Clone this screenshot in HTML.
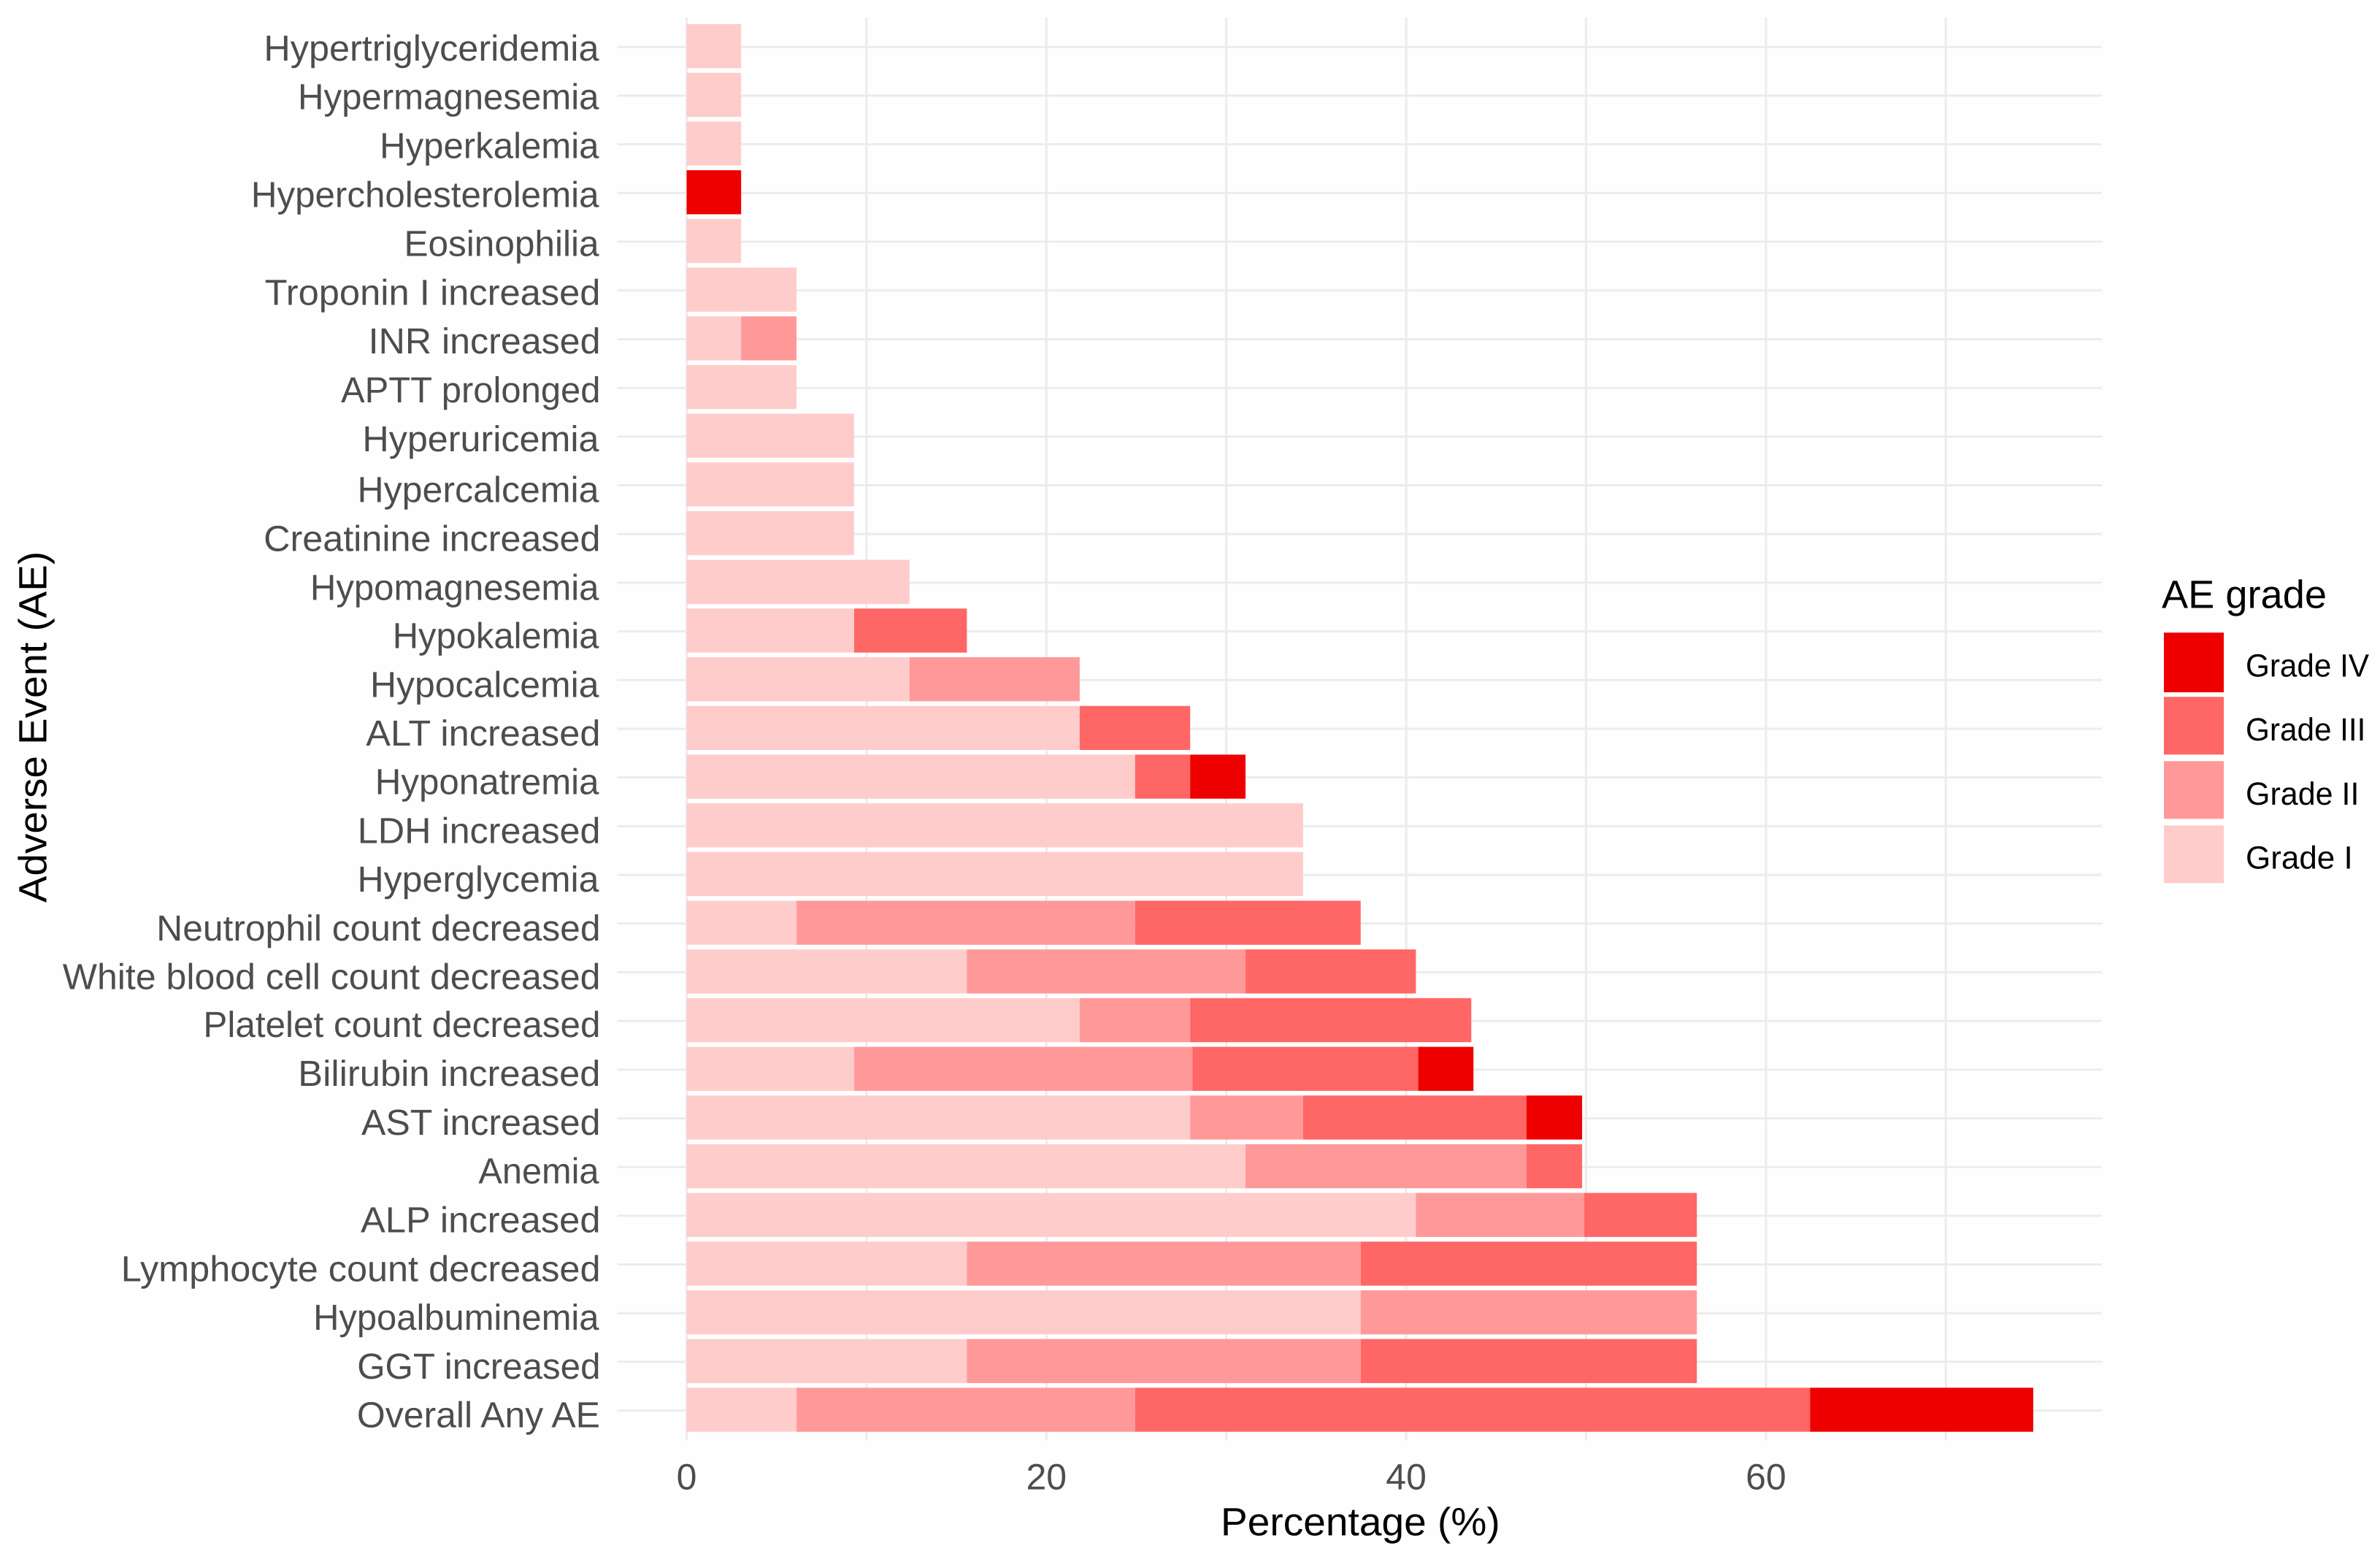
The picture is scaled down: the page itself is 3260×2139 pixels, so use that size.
<!DOCTYPE html>
<html lang="en">
<head>
<meta charset="utf-8">
<title>Adverse Event grades chart</title>
<style>
html,body{margin:0;padding:0;background:#fff;}
body{width:3260px;height:2139px;overflow:hidden;}
svg{display:block;}
text{font-family:"Liberation Sans",Arial,sans-serif;text-rendering:geometricPrecision;}
</style>
</head>
<body>
<svg id="chart" xmlns="http://www.w3.org/2000/svg" width="3260" height="2139" viewBox="0 0 3260 2139">
  <rect x="0" y="0" width="3260" height="2139" fill="#fefefe"/>
  <g id="grid"></g>
  <g id="bars"></g>
  <g id="ylabels"></g>
  <g id="xlabels"></g>
  <text x="1672" y="2102.5" font-size="54" fill="#000" textLength="382.7" lengthAdjust="spacingAndGlyphs">Percentage (%)</text>
  <text x="0" y="0" font-size="54" fill="#000" textLength="481" lengthAdjust="spacingAndGlyphs" transform="translate(63.5 1236) rotate(-90)">Adverse Event (AE)</text>
  <g id="legend">
    <text x="2961" y="832.5" font-size="54" fill="#000" textLength="226" lengthAdjust="spacingAndGlyphs">AE grade</text>
  </g>
</svg>
<script>
const categories = ["Hypertriglyceridemia","Hypermagnesemia","Hyperkalemia","Hypercholesterolemia","Eosinophilia","Troponin I increased","INR increased","APTT prolonged","Hyperuricemia","Hypercalcemia","Creatinine increased","Hypomagnesemia","Hypokalemia","Hypocalcemia","ALT increased","Hyponatremia","LDH increased","Hyperglycemia","Neutrophil count decreased","White blood cell count decreased","Platelet count decreased","Bilirubin increased","AST increased","Anemia","ALP increased","Lymphocyte count decreased","Hypoalbuminemia","GGT increased","Overall Any AE"];
const gradeI = [3.03,3.03,3.03,0,3.03,6.11,3.03,6.11,9.31,9.31,9.31,12.39,9.31,12.39,21.85,24.93,34.27,34.27,6.11,15.58,21.85,9.31,27.99,31.07,40.54,15.58,37.47,15.58,6.11];
const gradeII = [0,0,0,0,0,0,3.08,0,0,0,0,0,0,9.46,0,0,0,0,18.82,15.49,6.14,18.81,6.28,15.62,9.36,21.89,18.69,21.89,18.82];
const gradeIII = [0,0,0,0,0,0,0,0,0,0,0,0,6.27,0,6.14,3.06,0,0,12.54,9.47,15.63,12.55,12.42,3.09,6.26,18.69,0,18.69,37.53];
const gradeIV = [0,0,0,3.03,0,0,0,0,0,0,0,0,0,0,0,3.08,0,0,0,0,0,3.07,3.09,0,0,0,0,0,12.40];
const gridBreaks = [0,10,20,30,40,50,60,70];
const xTickValues = [0,20,40,60];
const gradeNames = ["Grade I","Grade II","Grade III","Grade IV"];
const legendOrder = ["Grade IV","Grade III","Grade II","Grade I"];

/* Text layout measured from the reference (not chart data). */
const labelLayoutStart = [361.4,408,520.1,343.9,553.5,362.7,504.7,467,496.4,489.5,361.2,424.9,537.7,507,501.3,513.8,489.8,489.5,214.3,85.8,278.4,408.3,495,655.4,494,165.8,429.1,489.2,488.9];
const labelLayoutBaseline = [83.1,149.6,216.5,283.5,350.4,417.3,484.2,551.1,618,687.7,754.5,821.4,887.5,954.4,1020.9,1087.4,1154.3,1220.8,1287.8,1354.7,1420,1486.9,1553.8,1620.7,1687.6,1754.6,1821,1888,1954.5];
const legendLayoutWidth = [169,164.4,155.4,146.7];

const gradeColor = {"Grade I":"#ffcccc","Grade II":"#ff9999","Grade III":"#ff6666","Grade IV":"#ee0000"};
const gradeSeries = [gradeI, gradeII, gradeIII, gradeIV];
const NS = "http://www.w3.org/2000/svg";
const xScale = function (p) { return 940.5 + 24.64 * p; };
const yScale = function (i) { return 64.3 + 66.69 * i; };
const panel = {left: 845.5, right: 2879, top: 24, bottom: 1972.5};
const barHeight = 60.3;

function make(parent, tag, attrs, txt) {
  const el = document.createElementNS(NS, tag);
  for (const k in attrs) el.setAttribute(k, attrs[k]);
  if (txt !== undefined) el.textContent = txt;
  parent.appendChild(el);
  return el;
}
function slug(s) { return s.toLowerCase().replace(/[^a-z0-9]+/g, "-").replace(/^-|-$/g, ""); }
function labelEnd(s) {
  const last = s.charAt(s.length - 1);
  if (last === "d") return 822.5;
  if (last === "E") return 822;
  return 820.5;
}

const grid = document.getElementById("grid");
const bars = document.getElementById("bars");
const ylabels = document.getElementById("ylabels");
const xlabels = document.getElementById("xlabels");
const legend = document.getElementById("legend");

categories.forEach(function (c, i) {
  const line = make(grid, "line", {x1: panel.left, x2: panel.right, y1: yScale(i), y2: yScale(i), stroke: "#ececec", "stroke-width": 3});
  
  
});
gridBreaks.forEach(function (b) {
  const line = make(grid, "line", {x1: xScale(b), x2: xScale(b), y1: panel.top, y2: panel.bottom, stroke: "#ececec", "stroke-width": 3});
  
  
});

categories.forEach(function (c, i) {
  let cum = 0;
  gradeSeries.forEach(function (series, g) {
    const v = series[i];
    if (v > 0) {
      const x0 = xScale(cum);
      const x1 = xScale(cum + v);
      const r = make(bars, "rect", {x: x0, y: yScale(i) - 1.1 - barHeight / 2, width: x1 - x0, height: barHeight, fill: gradeColor[gradeNames[g]]});
      
      
    }
    cum += v;
  });
  const t = make(ylabels, "text", {x: labelLayoutStart[i], y: labelLayoutBaseline[i], "font-size": 49.6, fill: "#4d4d4d", textLength: labelEnd(c) - labelLayoutStart[i], lengthAdjust: "spacingAndGlyphs"}, c);
  
  
});

xTickValues.forEach(function (v) {
  const t = make(xlabels, "text", {x: xScale(v), y: 2039.5, "font-size": 50, "text-anchor": "middle", fill: "#4d4d4d"}, String(v));
  
  
});

legendOrder.forEach(function (name, i) {
  const k = make(legend, "rect", {x: 2964, y: 866.3 + 88 * i, width: 82, height: i === 0 ? 81.7 : 79, fill: gradeColor[name]});
  
  
  const t = make(legend, "text", {x: 3076, y: 926.6 + 87.6 * i, "font-size": 44, fill: "#000", textLength: legendLayoutWidth[i], lengthAdjust: "spacingAndGlyphs"}, name);
  
  
});
</script>
</body>
</html>
